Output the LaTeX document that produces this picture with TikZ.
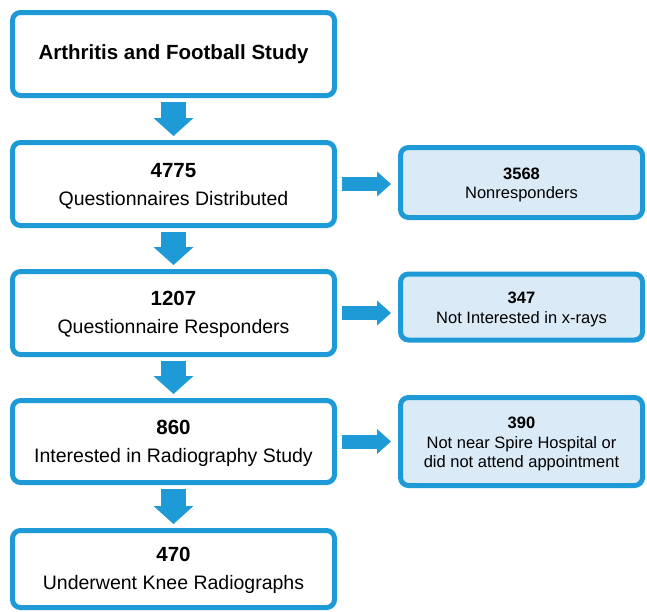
\documentclass[tikz,border=0pt]{standalone}
\usepackage{fontspec}
\setmainfont{Liberation Sans}
\usetikzlibrary{arrows.meta}
\definecolor{flowblue}{RGB}{30,155,215}
\definecolor{lightfill}{RGB}{218,234,247}
\newcommand{\leftpad}{\rule{0pt}{17.7pt}}
\newcommand{\rightpad}{\rule{0pt}{16.8pt}}
\begin{document}
\begin{tikzpicture}[x=1pt,y=-1pt,
  mainbox/.style={draw=flowblue, line width=5pt, rounded corners=8pt, fill=white,
    minimum width=322pt, minimum height=83pt, inner sep=0pt, align=center,
    font=\fontsize{19.5}{28}\selectfont},
  sidebox/.style={draw=flowblue, line width=5pt, rounded corners=8pt, fill=lightfill,
    minimum width=242pt, inner sep=0pt, align=center,
    font=\fontsize{16.5}{19.5}\selectfont},
  downarrow/.style={draw=flowblue, line width=25pt,
    -{Triangle[width=40pt,length=18pt,line width=0pt]}},
  sidearrow/.style={draw=flowblue, line width=14pt,
    -{Triangle[width=25pt,length=14pt,line width=0pt]}}]
\useasboundingbox (0,0) rectangle (647,611);

\node[mainbox] (b1) at (173.5,54) {\fontsize{20.5}{28}\selectfont\bfseries Arthritis and Football Study};
\node[mainbox] (b2) at (173.5,184) {\leftpad{\fontsize{20.5}{28}\selectfont\bfseries 4775}\\Questionnaires Distributed};
\node[mainbox] (b3) at (173.5,313) {\leftpad{\fontsize{20.5}{28}\selectfont\bfseries 1207}\\Questionnaire Responders};
\node[mainbox, minimum height=82pt] (b4) at (173.5,441.5) {\leftpad{\fontsize{20.5}{28}\selectfont\bfseries 860}\\Interested in Radiography Study};
\node[mainbox, minimum height=77pt] (b5) at (173.5,569) {\leftpad{\fontsize{20.5}{28}\selectfont\bfseries 470}\\Underwent Knee Radiographs};

\node[sidebox, minimum height=70pt] (r1) at (521.5,182.5) {\rightpad{\bfseries 3568}\\Nonresponders};
\node[sidebox, minimum height=66pt] (r2) at (521.5,307) {\rightpad{\bfseries 347}\\Not Interested in x-rays};
\node[sidebox, minimum height=88pt] (r3) at (521.5,441.5) {\rightpad{\bfseries 390}\\Not near Spire Hospital or\\did not attend appointment};

\draw[downarrow] ([yshift=-4pt]b1.south) -- ([yshift=4pt]b2.north);
\draw[downarrow] ([yshift=-4pt]b2.south) -- ([yshift=4pt]b3.north);
\draw[downarrow] ([yshift=-4pt]b3.south) -- ([yshift=4pt]b4.north);
\draw[downarrow] ([yshift=-4pt]b4.south) -- ([yshift=4pt]b5.north);

\coordinate (t1) at (b2.east -| r1.west);
\coordinate (t2) at (b3.east -| r2.west);
\coordinate (t3) at (b4.east -| r3.west);
\draw[sidearrow] ([xshift=5pt]b2.east) -- ([xshift=-7pt]t1);
\draw[sidearrow] ([xshift=5pt]b3.east) -- ([xshift=-7pt]t2);
\draw[sidearrow] ([xshift=5pt]b4.east) -- ([xshift=-7pt]t3);
\end{tikzpicture}
\end{document}
